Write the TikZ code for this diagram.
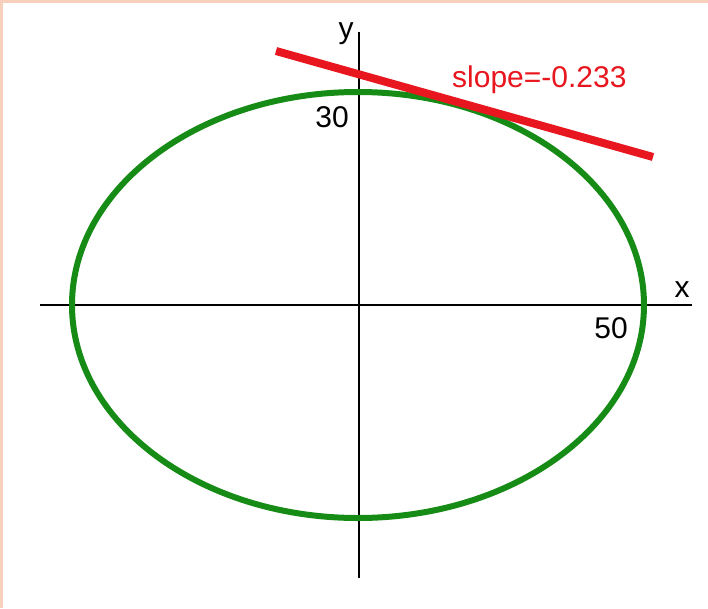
\documentclass[tikz,border=0pt]{standalone}
\usepackage{fontspec}
\setmainfont{Liberation Sans}
\definecolor{framepeach}{RGB}{246,208,186}
\definecolor{ellgreen}{RGB}{22,140,22}
\definecolor{tanred}{RGB}{232,22,30}
\tikzset{
  axis/.style={line width=2pt, black},
  ell/.style={line width=6pt, ellgreen},
  tangent/.style={line width=8pt, tanred},
  lbl/.style={inner sep=0pt, font=\fontsize{30}{36}\selectfont},
}
\begin{document}
\begin{tikzpicture}[x=1pt,y=-1pt]
\useasboundingbox (0,0) rectangle (708,608);
\fill[framepeach] (0,0) rectangle (708,608);
\fill[white] (3,3) rectangle (708,608);
% axes
\coordinate (xl) at (40,305);
\coordinate (xr) at (692,305);
\coordinate (yt) at (359,32);
\coordinate (yb) at (359,578);
\draw[axis] (xl) -- (xr);
\draw[axis] (yt) -- (yb);
% ellipse
\coordinate (c) at (358,305);
\draw[ell] (c) ellipse [x radius=286, y radius=213];
% tangent
\coordinate (t1) at (276,51);
\coordinate (t2) at (653,157);
\draw[tangent] (t1) -- (t2);
% labels
\node[lbl, anchor=base] (ylab) at (346,38) {y};
\node[lbl, anchor=base] (xlab) at (682,297) {x};
\node[lbl, anchor=base] (thirty) at (332,127) {30};
\node[lbl, anchor=base] (fifty) at (611,338) {50};
\node[lbl, anchor=base west, text=tanred] (slope) at (452,87) {slope=-0.233};
\end{tikzpicture}
\end{document}
